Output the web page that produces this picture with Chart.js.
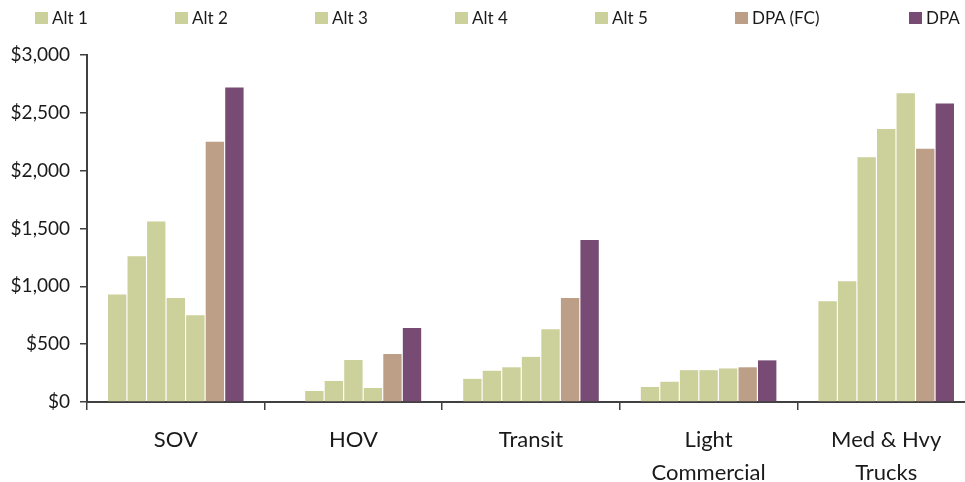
<!DOCTYPE html>
<html>
<head>
<meta charset="utf-8">
<script src="https://cdn.jsdelivr.net/npm/chart.js@4.4.1/dist/chart.umd.min.js"></script>
<style>
  html, body { margin: 0; padding: 0; background: #fff; overflow: hidden; }
  #wrap { position: relative; width: 975px; height: 482px; }
  #legend { position: absolute; left: 35px; top: 7px; display: flex; font-family: Lato, sans-serif; font-size: 17px; color: #1a1a1a; }
  #legend .item { display: flex; align-items: center; width: 140px; white-space: nowrap; }
  #legend .item.wide { width: 174px; }
  #legend .box { width: 13px; height: 12px; margin-right: 4px; }
</style>
</head>
<body>
<div id="wrap">
  <canvas id="costChart" width="975" height="482"></canvas>
  <div id="legend"></div>
</div>
<script>
document.addEventListener("DOMContentLoaded", function () {
    // Categories and series (values in $)
    const categories = ["SOV", "HOV", "Transit", ["Light", "Commercial"], ["Med & Hvy", "Trucks"]];
    const seriesNames = ["Alt 1", "Alt 2", "Alt 3", "Alt 4", "Alt 5", "DPA (FC)", "DPA"];
    const alt1 = [930, 0, 200, 130, 870];
    const alt2 = [1260, 95, 270, 175, 1045];
    const alt3 = [1560, 182, 300, 275, 2115];
    const alt4 = [900, 363, 390, 275, 2360];
    const alt5 = [750, 121, 630, 290, 2670];
    const dpaFC = [2250, 415, 900, 300, 2190];
    const dpa = [2720, 640, 1400, 360, 2580];
    const yMax = 3000;
    const yStep = 500;

    const colors = ["#CCD09A", "#CCD09A", "#CCD09A", "#CCD09A", "#CCD09A", "#BD9F87", "#774B73"];
    const seriesValues = [alt1, alt2, alt3, alt4, alt5, dpaFC, dpa];
    const axisColor = "#404040";

    const ctx = document.getElementById("costChart").getContext("2d");

    const chart = new Chart(ctx, {
        type: "bar",
        data: {
            labels: categories,
            datasets: seriesNames.map((name, i) => ({
                label: name,
                data: seriesValues[i],
                backgroundColor: colors[i],
                categoryPercentage: 0.77,
                barPercentage: 0.94
            }))
        },
        options: {
            responsive: false,
            animation: false,
            layout: { padding: { top: 55, left: 0, right: 0, bottom: 0 } },
            plugins: {
                legend: { display: false },
                tooltip: { enabled: false }
            },
            scales: {
                x: {
                    grid: { drawOnChartArea: false, drawTicks: true, tickLength: 8, color: axisColor, lineWidth: 1.5, offset: true },
                    border: { display: true, color: axisColor, width: 2 },
                    ticks: {
                        autoSkip: false, maxRotation: 0, minRotation: 0, padding: 14,
                        color: "#1a1a1a",
                        font: { family: "Lato", size: 22, lineHeight: 1.48 }
                    },
                    afterFit: function (scale) { scale.height = 80; }
                },
                y: {
                    min: 0, max: yMax,
                    grid: { drawOnChartArea: false, drawTicks: true, tickLength: 7, color: axisColor, lineWidth: 1.5 },
                    border: { display: true, color: axisColor, width: 2 },
                    ticks: {
                        stepSize: yStep, padding: 10, color: "#1a1a1a",
                        font: { family: "Lato", size: 19 },
                        callback: v => "$" + v.toLocaleString("en-US")
                    },
                    afterFit: function (scale) { scale.width = 87; }
                }
            }
        }
    });

    // HTML legend built from the chart's datasets
    const legend = document.getElementById("legend");
    chart.data.datasets.forEach((ds, i) => {
        const item = document.createElement("div");
        item.className = "item" + (ds.label === "DPA (FC)" ? " wide" : "");
        item.innerHTML = `<span class="box" style="background:${ds.backgroundColor}"></span>${ds.label}`;
        legend.appendChild(item);
    });
});
</script>
</body>
</html>
